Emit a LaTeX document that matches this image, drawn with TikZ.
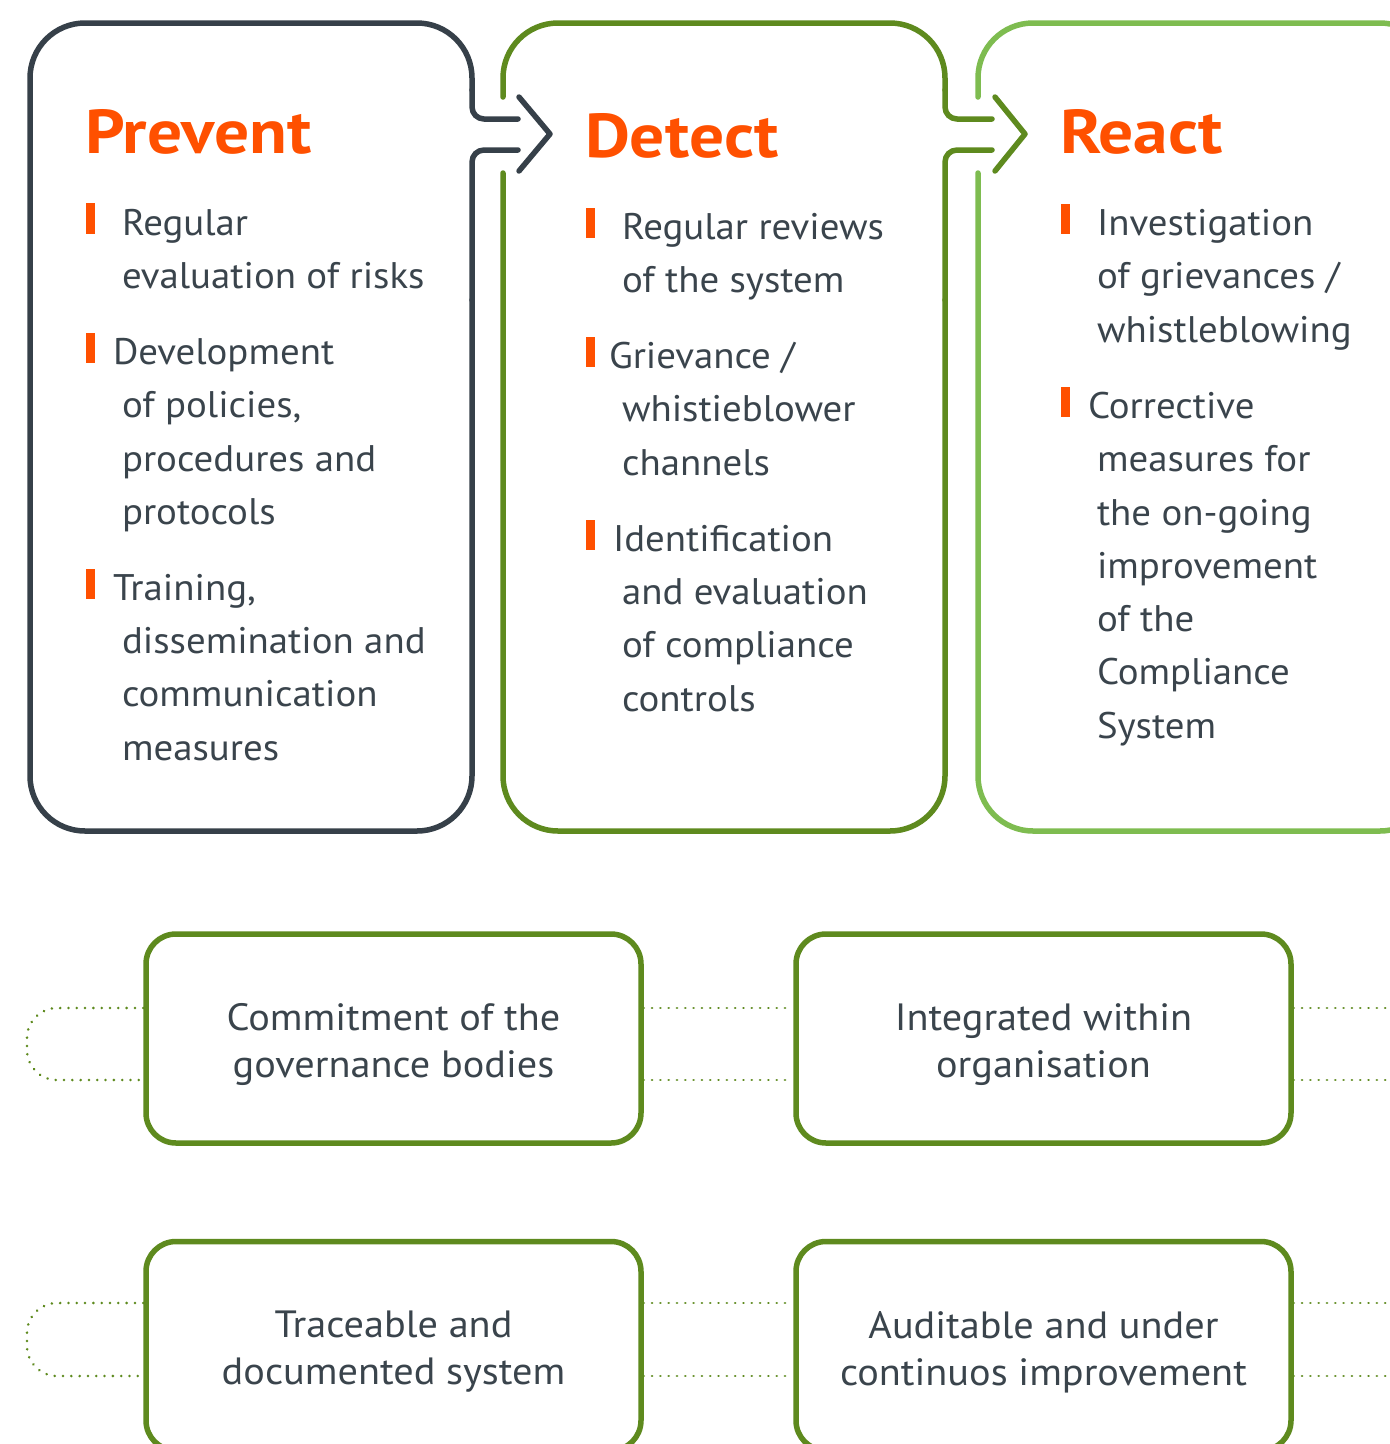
\documentclass[tikz,border=0pt]{standalone}
\usepackage{fontspec}
\setmainfont{PT Sans}
\newfontfamily\bodyf[FakeStretch=1.05]{PT Sans}
\newfontfamily\boxf[FakeStretch=1.06]{PT Sans}
\newfontfamily\ttlf[FakeStretch=1.12]{PT Sans}
\definecolor{slate}{RGB}{54,64,73}
\definecolor{txtc}{RGB}{58,68,76}
\definecolor{grn}{RGB}{94,138,30}
\definecolor{lgrn}{RGB}{126,188,80}
\definecolor{org}{RGB}{255,80,0}
\begin{document}
\begin{tikzpicture}[x=1pt,y=-1pt,
  frame/.style={line width=5.5pt, line cap=round, line join=round},
  body/.style={anchor=base west, inner sep=0pt, outer sep=0pt, text=txtc, font=\bodyf\fontsize{37}{53}\selectfont},
  ttl/.style={anchor=base west, inner sep=0pt, outer sep=0pt, text=org, font=\ttlf\fontsize{62}{64}\selectfont\bfseries},
  bar/.style={fill=org},
  pbox/.style={draw=grn, line width=5.5pt, rounded corners=30pt, minimum width=495pt, minimum height=209pt, inner sep=0pt},
  ptxt/.style={align=center, inner sep=0pt, text=txtc, font=\boxf\fontsize{38}{47}\selectfont},
  dotline/.style={draw=grn, line width=2.8pt, line cap=round, dash pattern=on 0.01pt off 8.3pt}
]
\useasboundingbox (0,0) rectangle (1390,1444);
\clip (0,0) rectangle (1390,1444);
\fill[white] (0,0) rectangle (1390,1444);

% ---------- Prevent frame ----------
\draw[frame, draw=slate, rounded corners=12pt] (518,119) -- (472,119) -- (472,90);
\draw[frame, draw=slate, rounded corners=55pt] (472,90) -- (472,23) -- (30,23) -- (30,831) -- (472,831) -- (472,300);
\draw[frame, draw=slate, rounded corners=12pt] (472,300) -- (472,150) -- (518,150);
\draw[frame, draw=slate] (519,97) -- (550,134) -- (519,171);

% ---------- Detect frame ----------
\draw[frame, draw=grn, rounded corners=55pt] (503,97) -- (503,23) -- (945,23) -- (945,90);
\draw[frame, draw=grn, rounded corners=12pt] (945,90) -- (945,119) -- (992,119);
\draw[frame, draw=grn, rounded corners=12pt] (992,150) -- (945,150) -- (945,300);
\draw[frame, draw=grn, rounded corners=55pt] (945,300) -- (945,831) -- (503,831) -- (503,173);
\draw[frame, draw=grn] (995,97) -- (1025,134) -- (995,171);

% ---------- React frame ----------
\draw[frame, draw=lgrn, rounded corners=55pt] (978,97) -- (978,23) -- (1435,23) -- (1435,831) -- (978,831) -- (978,173);

% ---------- Titles ----------
\node[ttl] (tprev) at (85,153) {Prevent};
\node[ttl] (tdet) at (585,157) {Detect};
\node[ttl] (treact) at (1060,153) {React};

% ---------- Prevent items ----------
\fill[bar] (86,203) rectangle (95,234);
\node[body] (p11) at (122,235) {Regular};
\node[body] (p12) at (122,288) {evaluation of risks};
\fill[bar] (86,333) rectangle (95,363);
\node[body] (p21) at (113,364) {Development};
\node[body] (p22) at (122,417) {of policies,};
\node[body] (p23) at (122,471) {procedures and};
\node[body] (p24) at (122,524) {protocols};
\fill[bar] (86,569) rectangle (95,599);
\node[body] (p31) at (113,600) {Training,};
\node[body] (p32) at (122,653) {dissemination and};
\node[body] (p33) at (122,706) {communication};
\node[body] (p34) at (122,760) {measures};

% ---------- Detect items ----------
\fill[bar] (586,208) rectangle (595,238);
\node[body] (d11) at (622,239) {Regular reviews};
\node[body] (d12) at (622,292) {of the system};
\fill[bar] (586,337) rectangle (595,367);
\node[body] (d21) at (609,368) {Grievance /};
\node[body] (d22) at (622,421) {whistieblower};
\node[body] (d23) at (622,475) {channels};
\fill[bar] (586,520) rectangle (595,550);
\node[body] (d31) at (613,551) {Identification};
\node[body] (d32) at (622,604) {and evaluation};
\node[body] (d33) at (622,657) {of compliance};
\node[body] (d34) at (622,711) {controls};

% ---------- React items ----------
\fill[bar] (1061,204) rectangle (1070,234);
\node[body] (r11) at (1097,235) {Investigation};
\node[body] (r12) at (1097,288) {of grievances /};
\node[body] (r13) at (1097,342) {whistleblowing};
\fill[bar] (1061,387) rectangle (1070,417);
\node[body] (r21) at (1088,418) {Corrective};
\node[body] (r22) at (1097,471) {measures for};
\node[body] (r23) at (1097,525) {the on-going};
\node[body] (r24) at (1097,578) {improvement};
\node[body] (r25) at (1097,631) {of the};
\node[body] (r26) at (1097,684) {Compliance};
\node[body] (r27) at (1097,738) {System};

% ---------- Principle boxes ----------
\node[pbox] (b1) at (393.5,1038.5) {};
\node[pbox] (b2) at (1043.5,1038.5) {};
\node[pbox] (b3) at (393.5,1346) {};
\node[pbox] (b4) at (1043.5,1346) {};
\node[ptxt] (b1t) at ([yshift=-6pt]b1.center) {Commitment of the\\governance bodies};
\node[ptxt] (b2t) at ([yshift=-6pt]b2.center) {Integrated within\\organisation};
\node[ptxt] (b3t) at ([yshift=-6pt]b3.center) {Traceable and\\documented system};
\node[ptxt] (b4t) at ([yshift=-6pt]b4.center) {Auditable and under\\continuos improvement};

\coordinate (r1t) at (0,1008);
\coordinate (r1b) at (0,1080);
\coordinate (r2t) at (0,1303);
\coordinate (r2b) at (0,1376);
\coordinate (rend1t) at (1392,1008);
\coordinate (rend1b) at (1392,1080);
\coordinate (rend2t) at (1392,1303);
\coordinate (rend2b) at (1392,1376);

\draw[dotline, rounded corners=30pt] (b1.west |- r1t) -- (27,1008) -- (27,1080) -- (b1.west |- r1b);
\draw[dotline] (b1.east |- r1t) -- (b2.west |- r1t);
\draw[dotline] (b1.east |- r1b) -- (b2.west |- r1b);
\draw[dotline] (b2.east |- r1t) -- (rend1t);
\draw[dotline] (b2.east |- r1b) -- (rend1b);

\draw[dotline, rounded corners=30pt] (b3.west |- r2t) -- (27,1303) -- (27,1376) -- (b3.west |- r2b);
\draw[dotline] (b3.east |- r2t) -- (b4.west |- r2t);
\draw[dotline] (b3.east |- r2b) -- (b4.west |- r2b);
\draw[dotline] (b4.east |- r2t) -- (rend2t);
\draw[dotline] (b4.east |- r2b) -- (rend2b);
\end{tikzpicture}
\end{document}
